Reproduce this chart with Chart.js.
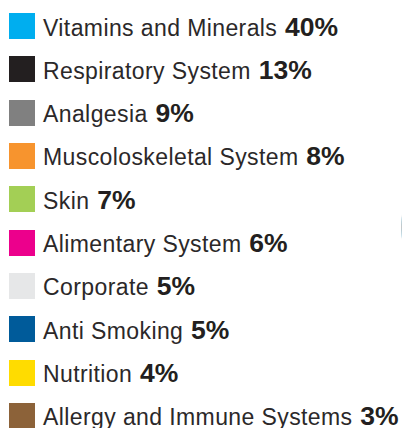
<!DOCTYPE html>
<html>
<head>
<meta charset="utf-8">
<script src="https://cdn.jsdelivr.net/npm/chart.js@4/dist/chart.umd.min.js"></script>
<style>
  html, body { margin: 0; padding: 0; background: #fff; width: 402px; height: 428px; overflow: hidden; }
  #pieBox { position: absolute; left: 401px; top: 105px; width: 244px; height: 244px; }
  #legend { position: absolute; left: 9px; top: 13px; margin: 0; padding: 0; list-style: none; }
  #legend li { display: flex; align-items: center; height: 26px; margin-bottom: 17.33px; white-space: nowrap; }
  #legend .sw { width: 26px; height: 26px; flex: 0 0 26px; }
  #legend .txt { margin-left: 8px; font-family: "Liberation Sans", Arial, sans-serif; font-size: 23px; letter-spacing: 0.4px; color: #2b2829; line-height: 26px; position: relative; top: 1px; }
  #legend .pct { font-weight: bold; font-size: 26.5px; letter-spacing: 0; color: #231f20; margin-left: 1px; }
</style>
</head>
<body>
<div id="pieBox"><canvas id="pie"></canvas></div>
<ul id="legend"></ul>
<script>
// Therapy areas and their share of sales
const categories = [
  'Vitamins and Minerals',
  'Respiratory System',
  'Analgesia',
  'Muscoloskeletal System',
  'Skin',
  'Alimentary System',
  'Corporate',
  'Anti Smoking',
  'Nutrition',
  'Allergy and Immune Systems'
];
const shares = [40, 13, 9, 8, 7, 6, 5, 5, 4, 3];
const sliceColors = [
  '#00aeef', '#231f20', '#808080', '#f7942e', '#a3cf55',
  '#ec008c', '#e6e7e8', '#005b9a', '#ffdc00', '#8c6239'
];

const chart = new Chart(document.getElementById('pie'), {
  type: 'pie',
  data: {
    labels: categories,
    datasets: [{
      data: shares,
      backgroundColor: sliceColors,
      borderColor: '#c8c8c8',
      borderWidth: 1
    }]
  },
  options: {
    responsive: true,
    maintainAspectRatio: false,
    animation: false,
    rotation: 198,
    layout: { padding: 0 },
    plugins: {
      legend: { display: false },
      tooltip: { enabled: false }
    }
  }
});

// Legend list built from the chart's own legend items
const list = document.getElementById('legend');
const items = chart.options.plugins.legend.labels.generateLabels(chart);
items.forEach((item) => {
  const li = document.createElement('li');
  const sw = document.createElement('span');
  sw.className = 'sw';
  sw.style.background = item.fillStyle;
  const txt = document.createElement('span');
  txt.className = 'txt';
  txt.appendChild(document.createTextNode(item.text + ' '));
  const pct = document.createElement('span');
  pct.className = 'pct';
  pct.textContent = chart.data.datasets[0].data[item.index] + '%';
  txt.appendChild(pct);
  li.appendChild(sw);
  li.appendChild(txt);
  list.appendChild(li);
});
</script>
</body>
</html>
